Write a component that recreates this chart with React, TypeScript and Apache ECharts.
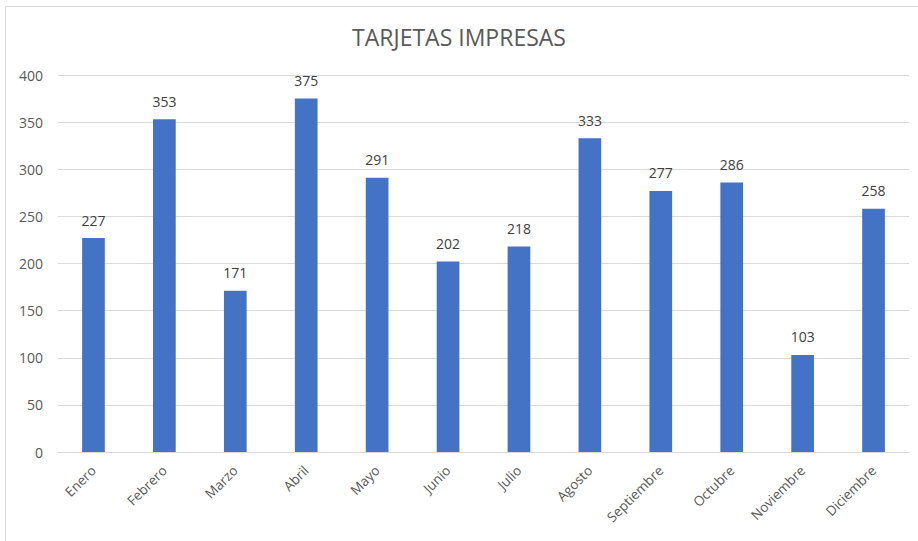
import React, { useEffect, useRef } from "react";
import * as echarts from "echarts";

const titleText = "TARJETAS IMPRESAS";
const months = ["Enero", "Febrero", "Marzo", "Abril", "Mayo", "Junio", "Julio", "Agosto", "Septiembre", "Octubre", "Noviembre", "Diciembre"];
const values = [227, 353, 171, 375, 291, 202, 218, 333, 277, 286, 103, 258];
const yMin = 0;
const yMax = 400;
const yStep = 50;

export default function App() {
  const ref = useRef<HTMLDivElement>(null);
  useEffect(() => {
    if (!ref.current) return;
    const chart = echarts.init(ref.current, undefined, { renderer: "svg" });
    const font = "Open Sans";
    chart.setOption({
      animation: false,
      backgroundColor: "#ffffff",
      title: {
        text: titleText,
        left: "center",
        top: 20,
        textStyle: { fontFamily: font, fontSize: 23, fontWeight: "normal", color: "#595959" },
      },
      graphic: [
        {
          type: "rect",
          shape: { x: 5.5, y: 6.5, width: 930, height: 560 },
          style: { fill: "none", stroke: "#d9d9d9", lineWidth: 1 },
          silent: true,
        },
      ],
      grid: { left: 58, right: 9, top: 75, bottom: 89, containLabel: false },
      xAxis: {
        type: "category",
        data: months,
        axisLine: { show: true, lineStyle: { color: "#d9d9d9", width: 1 } },
        axisTick: { show: false },
        axisLabel: { rotate: 45, color: "#595959", fontFamily: font, fontSize: 13.5, margin: 16, interval: 0 },
      },
      yAxis: {
        type: "value",
        min: yMin,
        max: yMax,
        interval: yStep,
        axisLine: { show: false },
        axisTick: { show: false },
        axisLabel: { color: "#595959", fontFamily: font, fontSize: 14, margin: 15 },
        splitLine: { lineStyle: { color: "#d9d9d9", width: 1 } },
      },
      series: [
        {
          type: "bar",
          data: values,
          barWidth: "32%",
          itemStyle: { color: "#4472c4" },
          label: { show: true, position: "top", distance: 11, color: "#404040", fontFamily: font, fontSize: 14 },
        },
      ],
    });
    return () => chart.dispose();
  }, []);
  return <div ref={ref} style={{ position: "fixed", left: 0, top: 0, width: 918, height: 541 }} />;
}
